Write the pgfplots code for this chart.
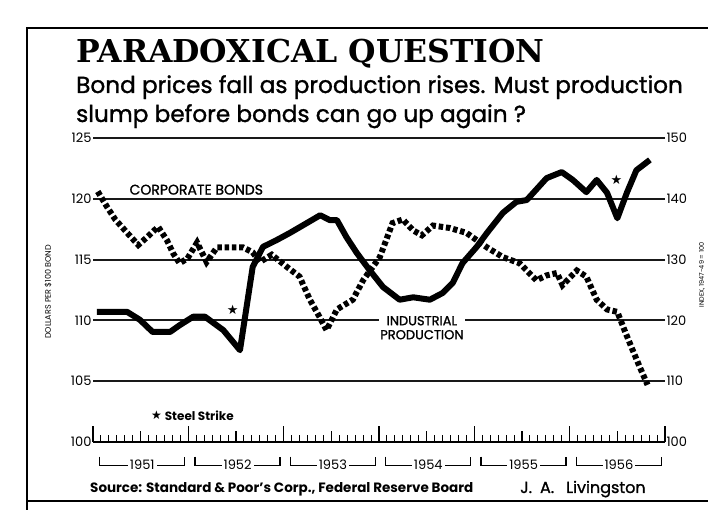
\documentclass[border=0pt]{standalone}
\usepackage{pgfplots}
\pgfplotsset{compat=1.18}
\usepackage{fontspec}
\setmainfont{Poppins}
\newfontfamily\subfont{Poppins}[FakeBold=1.2]
\newfontfamily\titlefont{DejaVu Serif}
\newfontfamily\symfont{DejaVu Sans}

\begin{document}
\begin{tikzpicture}[x=1pt,y=1pt]
\useasboundingbox (0,0) rectangle (708,510);
\fill[white] (0,0) rectangle (708,510);
\begin{scope}
\clip (0,0) rectangle (708,510);
\draw[line width=2pt] (720,482) -- (27,482) -- (27,-5);
\draw[line width=2pt] (27,9) -- (720,9);
\end{scope}
\node[anchor=base west, inner sep=0] at (76,447) {\titlefont\bfseries\fontsize{31.5}{31.5}\selectfont PARADOXICAL QUESTION};
\node[anchor=base west, inner sep=0] at (76,417) {\subfont\fontsize{23.2}{23.2}\selectfont Bond prices fall as production rises. Must production};
\node[anchor=base west, inner sep=0] at (76,388) {\subfont\fontsize{23.2}{23.2}\selectfont slump before bonds can go up again ?};

\begin{axis}[
  at={(93pt,68pt)}, anchor=south west, scale only axis,
  width=572pt, height=304pt,
  xmin=0, xmax=72, ymin=100, ymax=125,
  clip=false,
  axis x line*=bottom, axis y line*=left,
  x axis line style={line width=2.2pt, -},
  y axis line style={draw=none},
  ytick={100,105,...,125},
  y tick style={draw=none},
  ymajorgrids,
  grid style={line width=2pt, black!90},
  xtick={0,6,...,72}, xticklabels={},
  minor xtick={0,1,...,72},
  tick align=inside,
  x tick style={line width=1.1pt, black},
  major tick length=11pt, minor tick length=7pt,
  extra x ticks={0,12,...,72}, extra x tick labels={},
  extra x tick style={major tick length=16pt, line width=1.3pt},
  tick label style={font=\fontsize{13}{13}\selectfont},
  yticklabel style={xshift=2pt},
  /pgf/number format/assume math mode=true,
]
% Corporate bonds (dollars per $100 bond)
\addplot[black, line width=6pt, dash pattern=on 4.5pt off 2.8pt] coordinates {
(0.6,120.6) (1.8,119.3) (2.8,118.3) (4.3,117.2) (5.7,116.2) (6.9,116.9) (8.2,117.7) (9.3,116.6) (10.1,115.5) (10.9,114.7) (11.9,115.1) (13.1,116.4) (14.3,114.8) (15.6,116.0) (17.2,116.0) (18.9,116.0) (20.1,115.6) (21.0,114.8) (22.5,115.4) (24.4,114.4) (26.0,113.6) (27.3,111.7) (28.5,110.3) (29.4,109.2) (30.7,110.9) (32.7,111.7) (34.0,113.3) (36.1,115.2) (37.7,118.0) (39.0,118.3) (40.3,117.4) (41.4,117.0) (42.8,117.8) (44.9,117.6) (47.0,117.2) (48.3,116.6) (49.6,116.0) (51.6,115.2) (53.7,114.7) (55.8,113.3) (57.1,113.7) (58.4,113.9) (59.1,112.9) (60.9,114.1) (62.1,113.6) (63.4,111.7) (64.7,110.9) (66.0,110.7) (66.9,109.2) (67.9,107.6) (68.8,106.2) (69.8,104.7)
};
% steel strike stars
\addplot[only marks, mark=text, text mark={\fontsize{13}{13}\selectfont\symfont ★}] coordinates {(17.6,110.9) (65.9,121.6)};
\addplot[only marks, mark=text, text mark={\fontsize{12}{12}\selectfont\symfont ★}] coordinates {(8.0,102.2)};
\node[anchor=west, font=\bfseries\fontsize{12}{12}\selectfont] at (axis cs:8.6,102.2) {Steel Strike};
\node[font=\subfont\fontsize{14}{14}\selectfont] at (axis cs:13.0,120.75) {CORPORATE BONDS};
\node[fill=white, inner sep=1pt, align=center, font=\subfont\fontsize{13}{14}\selectfont] at (axis cs:41.4,109.4) {INDUSTRIAL\\PRODUCTION};
% year brackets
\draw[line width=1.2pt] (axis cs:0.85,98.8) |- (axis cs:11.55,98.1) -- (axis cs:11.55,98.8);
\draw[line width=1.2pt] (axis cs:12.85,98.8) |- (axis cs:23.55,98.1) -- (axis cs:23.55,98.8);
\draw[line width=1.2pt] (axis cs:24.85,98.8) |- (axis cs:35.55,98.1) -- (axis cs:35.55,98.8);
\draw[line width=1.2pt] (axis cs:36.85,98.8) |- (axis cs:47.55,98.1) -- (axis cs:47.55,98.8);
\draw[line width=1.2pt] (axis cs:48.85,98.8) |- (axis cs:59.55,98.1) -- (axis cs:59.55,98.8);
\draw[line width=1.2pt] (axis cs:60.85,98.8) |- (axis cs:71.55,98.1) -- (axis cs:71.55,98.8);
\node[fill=white, inner sep=2pt, font=\fontsize{13}{13}\selectfont] at (axis cs:6.2,98.15) {1951};
\node[fill=white, inner sep=2pt, font=\fontsize{13}{13}\selectfont] at (axis cs:18.2,98.15) {1952};
\node[fill=white, inner sep=2pt, font=\fontsize{13}{13}\selectfont] at (axis cs:30.2,98.15) {1953};
\node[fill=white, inner sep=2pt, font=\fontsize{13}{13}\selectfont] at (axis cs:42.2,98.15) {1954};
\node[fill=white, inner sep=2pt, font=\fontsize{13}{13}\selectfont] at (axis cs:54.2,98.15) {1955};
\node[fill=white, inner sep=2pt, font=\fontsize{13}{13}\selectfont] at (axis cs:66.2,98.15) {1956};
\end{axis}

\begin{axis}[
  at={(93pt,68pt)}, anchor=south west, scale only axis,
  width=572pt, height=304pt,
  xmin=0, xmax=72, ymin=100, ymax=150,
  clip=false,
  axis x line=none, axis y line*=right,
  y axis line style={draw=none},
  ytick={100,110,...,150},
  y tick style={draw=none},
  tick label style={font=\fontsize{13}{13}\selectfont},
  yticklabel style={xshift=-2pt},
  /pgf/number format/assume math mode=true,
]
% Industrial production (index, 1947-49 = 100)
\addplot[black, line width=6pt, line join=round] coordinates {
(0.5,121.4) (4.3,121.4) (5.9,120.1) (7.5,118.1) (9.7,118.1) (10.9,119.2) (12.6,120.6) (14.1,120.6) (16.4,118.4) (18.5,115.1) (20.1,128.8) (21.4,132.1) (23.1,133.2) (24.8,134.4) (26.9,136.0) (28.6,137.3) (29.8,136.5) (30.7,136.5) (31.9,133.7) (33.2,131.1) (34.8,128.3) (36.5,125.5) (38.6,123.4) (40.3,123.8) (42.4,123.4) (44.0,124.5) (45.3,126.2) (46.5,129.4) (48.3,132.1) (49.6,134.4) (51.6,137.7) (53.3,139.5) (54.6,139.8) (57.1,143.4) (59.0,144.4) (60.4,143.1) (62.1,141.1) (63.4,143.1) (64.7,141.0) (66.0,136.8) (67.2,141.0) (68.4,144.7) (70.1,146.4)
};
\end{axis}

\node[rotate=90, font=\fontsize{8}{8}\selectfont] at (48,218) {DOLLARS PER \$100 BOND};
\node[rotate=90, font=\fontsize{6.5}{6.5}\selectfont] at (702,235) {INDEX, 1947-49 = 100};
\node[anchor=base west, inner sep=0, font=\bfseries\fontsize{13.5}{13.5}\selectfont] at (90,17) {Source: Standard \& Poor's Corp., Federal Reserve Board};
\node[anchor=base west, inner sep=0, font=\subfont\fontsize{16}{16}\selectfont] at (520,17) {J.\hspace{8pt}A.\hspace{12pt}Livingston};
\end{tikzpicture}
\end{document}
